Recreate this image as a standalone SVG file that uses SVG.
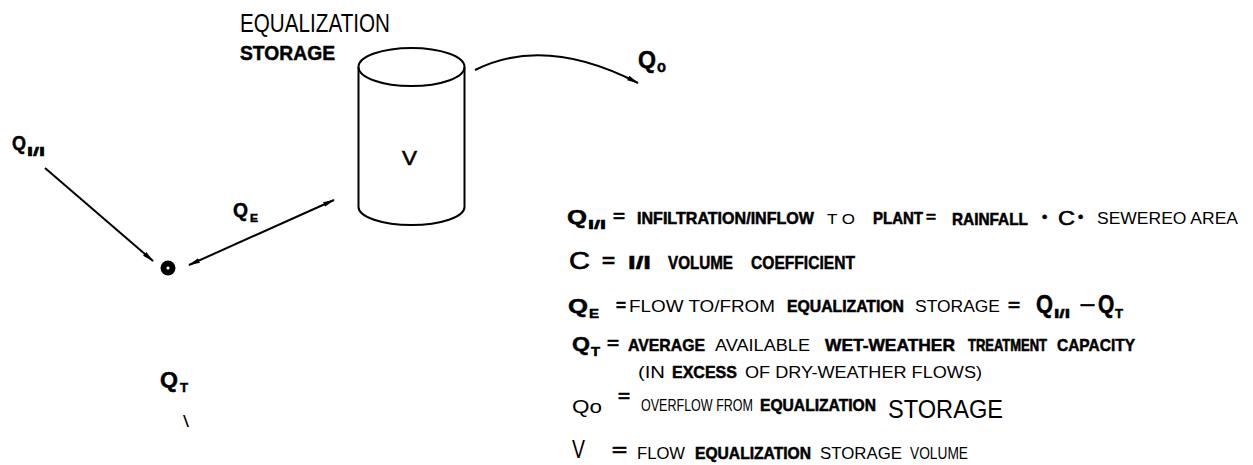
<svg xmlns="http://www.w3.org/2000/svg" width="1253" height="465" viewBox="0 0 1253 465">
<style>
text{font-family:"Liberation Sans",Arial,sans-serif;fill:#000}
.b{font-weight:bold;stroke:#000;stroke-width:0.5}
.m{stroke:#000;stroke-width:0.6}
.ln{stroke:#000;stroke-width:2;fill:none}
</style>
<defs>
<marker id="ah" viewBox="0 0 12 6" refX="11" refY="3" markerWidth="12" markerHeight="6" markerUnits="userSpaceOnUse" orient="auto-start-reverse">
<path d="M0,0.5 L12,3 L0,5.5 z" fill="#000"/>
</marker>
</defs>
<rect width="1253" height="465" fill="#fff"/>

<g id="storage">
<ellipse cx="411.5" cy="67" rx="53" ry="19" class="ln" stroke-width="2.5"/>
<path d="M358.5,67 L358.5,207 A53,18 0 0 0 464.5,207 L464.5,67" class="ln" stroke-width="2.5"/>
<text x="240" y="32" font-size="25" textLength="150" lengthAdjust="spacingAndGlyphs">EQUALIZATION</text>
<text class="b" x="240" y="60" font-size="21" textLength="95" lengthAdjust="spacingAndGlyphs">STORAGE</text>
<text class="m" x="402" y="165" font-size="21" textLength="15" lengthAdjust="spacingAndGlyphs">V</text>
</g>

<g id="junction">
<circle cx="168" cy="268" r="7.5" fill="#000"/>
<circle cx="168" cy="268" r="1.6" fill="#fff"/>
</g>

<g id="label-qii">
<text class="b" x="12" y="150" font-size="20" textLength="14" lengthAdjust="spacingAndGlyphs">Q</text>
<text class="b" x="27" y="156" font-size="13" textLength="18" lengthAdjust="spacingAndGlyphs">I/I</text>
</g>
<g id="label-qe">
<text class="b" x="233" y="217" font-size="20" textLength="15" lengthAdjust="spacingAndGlyphs">Q</text>
<text class="b" x="250" y="222" font-size="11" textLength="8" lengthAdjust="spacingAndGlyphs">E</text>
</g>
<g id="label-qo">
<text class="b" x="638" y="68" font-size="24" textLength="18" lengthAdjust="spacingAndGlyphs">Q</text>
<text class="b" x="657" y="72" font-size="16" textLength="9" lengthAdjust="spacingAndGlyphs">o</text>
</g>
<g id="label-qt">
<text class="b" x="160" y="387" font-size="22" textLength="18" lengthAdjust="spacingAndGlyphs">Q</text>
<text class="b" x="180" y="392" font-size="12" textLength="8" lengthAdjust="spacingAndGlyphs">T</text>
<text x="183" y="427" font-size="17" textLength="6" lengthAdjust="spacingAndGlyphs">\</text>
</g>

<g id="connectors">
<line x1="45" y1="168" x2="153" y2="261" class="ln" marker-end="url(#ah)"/>
<line x1="189" y1="265" x2="334" y2="200" class="ln" marker-start="url(#ah)" marker-end="url(#ah)"/>
<path d="M475,70 Q545,35 638,83" class="ln" marker-end="url(#ah)"/>
</g>

<g id="legend">
<!-- line 1 -->
<text class="b" x="567" y="224" font-size="20" textLength="20" lengthAdjust="spacingAndGlyphs">Q</text>
<text class="b" x="588" y="229" font-size="12" textLength="18" lengthAdjust="spacingAndGlyphs">I/I</text>
<text class="b" x="613" y="222" font-size="16" textLength="12" lengthAdjust="spacingAndGlyphs">=</text>
<text class="b" transform="translate(637,224) scale(1,1.1)" font-size="15.8" textLength="177" lengthAdjust="spacingAndGlyphs">INFILTRATION/INFLOW</text>
<text x="827" y="224" font-size="15" textLength="28" lengthAdjust="spacingAndGlyphs">T O</text>
<text class="b" transform="translate(873,224) scale(1,1.1)" font-size="15" textLength="50" lengthAdjust="spacingAndGlyphs">PLANT</text>
<text class="b" x="926" y="222" font-size="15" textLength="10" lengthAdjust="spacingAndGlyphs">=</text>
<text class="b" transform="translate(952,225) scale(1,1.1)" font-size="15.2" textLength="76" lengthAdjust="spacingAndGlyphs">RAINFALL</text>
<text class="b" x="1042" y="222" font-size="15">•</text>
<text class="m" x="1058" y="225" font-size="21" textLength="17" lengthAdjust="spacingAndGlyphs">C</text>
<text class="b" x="1078" y="222" font-size="15">•</text>
<text x="1097" y="224" font-size="16" textLength="141" lengthAdjust="spacingAndGlyphs">SEWEREO AREA</text>
<!-- line 2 -->
<text class="m" x="569" y="269" font-size="23" textLength="21" lengthAdjust="spacingAndGlyphs">C</text>
<text class="b" x="602" y="267" font-size="18" textLength="13" lengthAdjust="spacingAndGlyphs">=</text>
<text class="b" x="628" y="269" font-size="18" textLength="23" lengthAdjust="spacingAndGlyphs">I/I</text>
<text class="b" x="668" y="269" font-size="18" textLength="65" lengthAdjust="spacingAndGlyphs">VOLUME</text>
<text class="b" x="751" y="269" font-size="18" textLength="104" lengthAdjust="spacingAndGlyphs">COEFFICIENT</text>
<!-- line 3 -->
<text class="b" x="568" y="313" font-size="21" textLength="20" lengthAdjust="spacingAndGlyphs">Q</text>
<text class="b" x="589" y="318" font-size="13" textLength="10" lengthAdjust="spacingAndGlyphs">E</text>
<text class="b" x="616" y="311" font-size="16" textLength="10" lengthAdjust="spacingAndGlyphs">=</text>
<text x="629" y="312" font-size="16" textLength="146" lengthAdjust="spacingAndGlyphs">FLOW TO/FROM</text>
<text class="b" transform="translate(787,312) scale(1,1.08)" font-size="15.6" textLength="117" lengthAdjust="spacingAndGlyphs">EQUALIZATION</text>
<text x="915" y="312" font-size="16" textLength="85" lengthAdjust="spacingAndGlyphs">STORAGE</text>
<text class="b" x="1008" y="311" font-size="16" textLength="12" lengthAdjust="spacingAndGlyphs">=</text>
<text class="b" x="1036" y="313" font-size="25" textLength="17" lengthAdjust="spacingAndGlyphs">Q</text>
<text class="b" x="1054" y="318" font-size="13" textLength="16" lengthAdjust="spacingAndGlyphs">I/I</text>
<text class="b" x="1080" y="310" font-size="18" textLength="15" lengthAdjust="spacingAndGlyphs">–</text>
<text class="b" transform="translate(1098,313) scale(1.25,1.25)" font-size="20" textLength="13" lengthAdjust="spacingAndGlyphs">Q</text>
<text class="b" x="1115" y="318" font-size="12" textLength="8" lengthAdjust="spacingAndGlyphs">T</text>
<!-- line 4 -->
<text class="b" x="572" y="351" font-size="21" textLength="18" lengthAdjust="spacingAndGlyphs">Q</text>
<text class="b" x="591" y="356" font-size="12" textLength="9" lengthAdjust="spacingAndGlyphs">T</text>
<text class="b" x="607" y="349" font-size="16" textLength="12" lengthAdjust="spacingAndGlyphs">=</text>
<text class="b" x="628" y="351" font-size="17" textLength="77" lengthAdjust="spacingAndGlyphs">AVERAGE</text>
<text x="715" y="351" font-size="16" textLength="95" lengthAdjust="spacingAndGlyphs">AVAILABLE</text>
<text class="b" x="825" y="351" font-size="17" textLength="130" lengthAdjust="spacingAndGlyphs">WET-WEATHER</text>
<text class="b" transform="translate(968,351) scale(1,1.3)" font-size="12.8" textLength="79" lengthAdjust="spacingAndGlyphs">TREATMENT</text>
<text class="b" x="1057" y="351" font-size="17" textLength="78" lengthAdjust="spacingAndGlyphs">CAPACITY</text>
<!-- line 5 -->
<text x="638" y="378" font-size="16" textLength="27" lengthAdjust="spacingAndGlyphs">(IN</text>
<text class="b" x="672" y="378" font-size="17" textLength="65" lengthAdjust="spacingAndGlyphs">EXCESS</text>
<text x="745" y="378" font-size="16" textLength="237" lengthAdjust="spacingAndGlyphs">OF DRY-WEATHER FLOWS)</text>
<!-- line 6 -->
<text x="572" y="413" font-size="19" textLength="30" lengthAdjust="spacingAndGlyphs">Qo</text>
<text class="b" x="618" y="402" font-size="16" textLength="12" lengthAdjust="spacingAndGlyphs">=</text>
<text transform="translate(641,411) scale(1,1.3)" font-size="12.5" textLength="112" lengthAdjust="spacingAndGlyphs">OVERFLOW FROM</text>
<text class="b" transform="translate(760,411) scale(1,1.1)" font-size="15.4" textLength="116" lengthAdjust="spacingAndGlyphs">EQUALIZATION</text>
<text x="888" y="418" font-size="25" textLength="115" lengthAdjust="spacingAndGlyphs">STORAGE</text>
<!-- line 7 -->
<text x="572" y="458" font-size="25" textLength="13" lengthAdjust="spacingAndGlyphs">V</text>
<text class="b" x="612" y="456" font-size="16" textLength="15" lengthAdjust="spacingAndGlyphs">=</text>
<text x="637" y="459" font-size="16" textLength="48" lengthAdjust="spacingAndGlyphs">FLOW</text>
<text class="b" transform="translate(695,459) scale(1,1.1)" font-size="15.4" textLength="116" lengthAdjust="spacingAndGlyphs">EQUALIZATION</text>
<text x="820" y="459" font-size="16" textLength="82" lengthAdjust="spacingAndGlyphs">STORAGE</text>
<text x="910" y="459" font-size="16" textLength="58" lengthAdjust="spacingAndGlyphs">VOLUME</text>
</g>
</svg>
